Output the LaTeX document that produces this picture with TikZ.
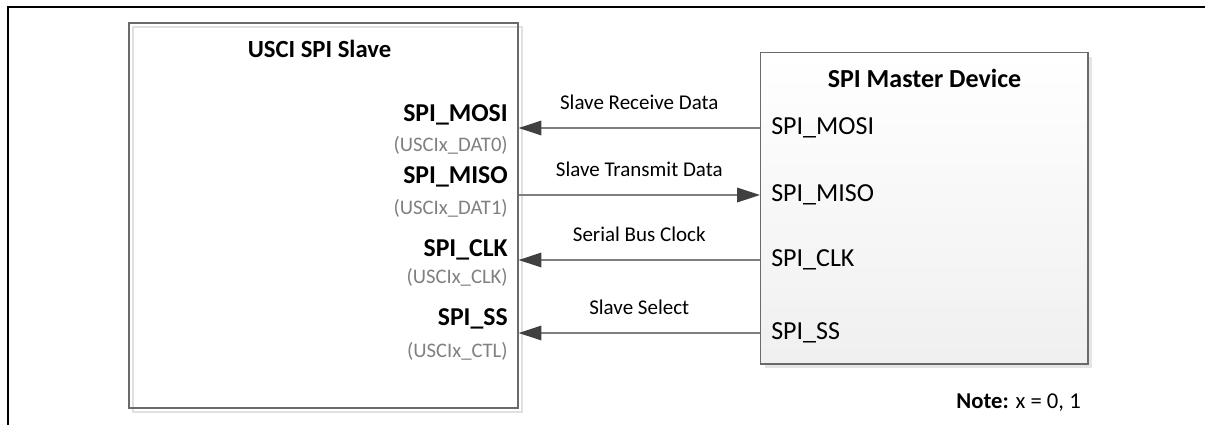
\documentclass[tikz,border=0pt]{standalone}
\usepackage{fontspec}
\setmainfont{Carlito}
\usetikzlibrary{arrows.meta,positioning,shadows}

\definecolor{aliasgray}{HTML}{808080}
\definecolor{wiregray}{HTML}{7F7F7F}
\definecolor{tipgray}{HTML}{404040}
\definecolor{edgegray}{HTML}{6A6A6A}

\tikzset{
    box/.style={draw=edgegray, line width=1pt, inner sep=0pt},
    title/.style={font=\fontsize{18.5}{20}\selectfont\bfseries, anchor=base, inner sep=0pt},
    pin/.style={font=\fontsize{19.3}{21}\selectfont\bfseries, anchor=base east, inner sep=0pt},
    alias/.style={font=\fontsize{15.5}{17}\selectfont, text=aliasgray, anchor=base east, inner sep=0pt},
    mpin/.style={font=\fontsize{19.5}{21}\selectfont, anchor=west, inner sep=0pt},
    wire/.style={draw=wiregray, line width=0.9pt, -{Triangle[length=17pt,width=11pt,color=tipgray]}},
    wirelabel/.style={font=\fontsize{15.75}{17}\selectfont, midway, above=13pt, inner sep=0pt},
}

\begin{document}
\begin{tikzpicture}[x=0.75pt, y=-0.75pt]
            \useasboundingbox (0,0) rectangle (1205,425);
            \draw [line width=1.5pt]
                (8,425) -- (8,7) -- (1205,7)
            ;

            \draw [black!12, line width=1pt]
                (133,27) rectangle (522,412)
            ;
            \node [box, minimum width=291.75pt, minimum height=288.75pt] (slave) at (323.5,215.5) {};
            \node [box, minimum width=245.6pt, minimum height=233.6pt, top color=white, bottom color=black!6,
                drop shadow={shadow xshift=3pt, shadow yshift=-3pt, fill=black!10, opacity=1}]
                (master) at (924.25,208.25) {};

            \node [title] (stitle) at (319.5,57) {USCI SPI Slave};
            \node [title, font=\fontsize{19.5}{21}\selectfont\bfseries] (mtitle) at (924.5,87) {SPI Master Device};

            \node [pin] (smosi) at (508,121.7) {SPI\_MOSI};
            \node [alias] (amosi) at (508,151.7) {(USCIx\_DAT0)};
            \node [pin] (smiso) at (508,183.3) {SPI\_MISO};
            \node [alias] (amiso) at (508,214) {(USCIx\_DAT1)};
            \node [pin] (sclk) at (508,256.7) {SPI\_CLK};
            \node [alias] (aclk) at (508,283) {(USCIx\_CLK)};
            \node [pin] (sss) at (508,325) {SPI\_SS};
            \node [alias] (ass) at (508,357) {(USCIx\_CTL)};

            \node [mpin] (mmosi) at (771,128) {SPI\_MOSI};
            \node [mpin] (mmiso) at (771,195) {SPI\_MISO};
            \node [mpin] (mclk) at (771,260) {SPI\_CLK};
            \node [mpin] (mss) at (771,333) {SPI\_SS};

            \draw [wire] (mmosi.west -| master.west) -- node [wirelabel] {Slave Receive Data} (mmosi.west -| slave.east);
            \draw [wire] (mmiso.west -| slave.east) -- node [wirelabel] {Slave Transmit Data} (mmiso.west -| master.west);
            \draw [wire] (mclk.west -| master.west) -- node [wirelabel] {Serial Bus Clock} (mclk.west -| slave.east);
            \draw [wire] (mss.west -| master.west) -- node [wirelabel] {Slave Select} (mss.west -| slave.east);

            \node [font=\fontsize{17}{19}\selectfont, anchor=base east, inner sep=0pt] (note) at (1081,408) {\textbf{Note:} x = 0, 1};
\end{tikzpicture}
\end{document}
